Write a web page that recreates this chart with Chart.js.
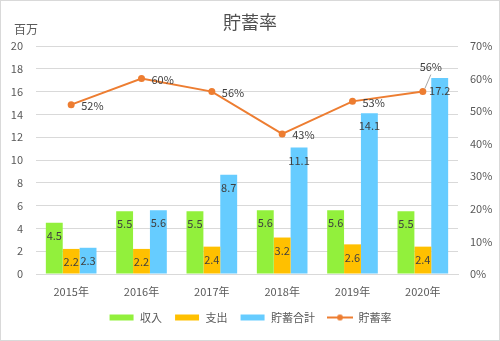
<!DOCTYPE html>
<html><head><meta charset="utf-8">
<script src="https://cdn.jsdelivr.net/npm/chart.js@4"></script>
<style>html,body{margin:0;padding:0;background:#fff}#wrap{width:500px;height:341px;position:relative}</style>
</head><body><div id="wrap"><canvas id="c" width="500" height="341"></canvas></div>
<script>
const categories = ['2015年','2016年','2017年','2018年','2019年','2020年'];
const income = [4.5, 5.5, 5.5, 5.6, 5.6, 5.5];
const expense = [2.2, 2.2, 2.4, 3.2, 2.6, 2.4];
const savingsTotal = [2.3, 5.6, 8.7, 11.1, 14.1, 17.2];
const savingsRate = [52, 60, 56, 43, 53, 56];
const rateLabelPlacement = ['right','right','right','right','right','above'];
const leftTicks = [0,2,4,6,8,10,12,14,16,18,20];

const FONT = '"Noto Sans CJK JP", "Noto Sans", sans-serif';
const TXT = '#595959';

function swatch(color, isLine){
  const c = document.createElement('canvas');
  c.width = 26; c.height = 8;
  const x = c.getContext('2d');
  if(isLine){
    x.strokeStyle = color; x.lineWidth = 2;
    x.beginPath(); x.moveTo(0,4); x.lineTo(26,4); x.stroke();
    x.fillStyle = color; x.beginPath(); x.arc(13,4,3,0,Math.PI*2); x.fill();
  } else {
    x.fillStyle = color; x.fillRect(1,1,24,6);
  }
  return c;
}

const deco = {
  id:'deco',
  beforeDraw(chart){
    const ctx = chart.ctx;
    ctx.save();
    ctx.fillStyle = '#fff'; ctx.fillRect(0,0,chart.width,chart.height);
    ctx.strokeStyle = '#D9D9D9'; ctx.lineWidth = 1;
    ctx.strokeRect(0.5,0.5,chart.width-1,chart.height-1);
    ctx.restore();
  },
  afterDraw(chart){
    const ctx = chart.ctx;
    ctx.save();
    ctx.fillStyle = '#505050';
    ctx.textAlign = 'center'; ctx.textBaseline = 'middle';
    ctx.font = '18px ' + FONT;
    ctx.fillText('貯蓄率', 250, 22);
    ctx.fillStyle = TXT;
    ctx.font = '12px ' + FONT;
    ctx.fillText('百万', 26, 29);
    ctx.restore();
  },
  afterDatasetsDraw(chart){
    const ctx = chart.ctx;
    ctx.save();
    ctx.font = '11px ' + FONT;
    ctx.fillStyle = '#404040';
    ctx.textBaseline = 'middle';
    [0,1,2].forEach(di=>{
      const meta = chart.getDatasetMeta(di);
      const data = chart.data.datasets[di].data;
      meta.data.forEach((bar,i)=>{
        ctx.textAlign = 'center';
        ctx.fillText(data[i].toFixed(1), bar.x, bar.y + 13);
      });
    });
    const lm = chart.getDatasetMeta(3);
    lm.data.forEach((pt,i)=>{
      const t = savingsRate[i] + '%';
      if(rateLabelPlacement[i]==='above'){
        ctx.textAlign = 'center';
        ctx.fillText(t, pt.x + 8, pt.y - 25);
        ctx.strokeStyle = '#A6A6A6'; ctx.lineWidth = 1;
        ctx.beginPath(); ctx.moveTo(pt.x + 8, pt.y - 17); ctx.lineTo(pt.x + 2, pt.y - 3); ctx.stroke();
      } else {
        ctx.textAlign = 'left';
        ctx.fillText(t, pt.x + 10, pt.y + 1);
      }
    });
    ctx.restore();
  }
};

new Chart(document.getElementById('c'), {
  data: {
    labels: categories,
    datasets: [
      {type:'bar', label:'収入', data: income, backgroundColor:'#92F03C', yAxisID:'y', categoryPercentage:0.72, barPercentage:1, legendSwatch: swatch('#92F03C')},
      {type:'bar', label:'支出', data: expense, backgroundColor:'#FFC000', yAxisID:'y', categoryPercentage:0.72, barPercentage:1, legendSwatch: swatch('#FFC000')},
      {type:'bar', label:'貯蓄合計', data: savingsTotal, backgroundColor:'#66CCFF', yAxisID:'y', categoryPercentage:0.72, barPercentage:1, legendSwatch: swatch('#66CCFF')},
      {type:'line', label:'貯蓄率', data: savingsRate, borderColor:'#ED7D31', backgroundColor:'#ED7D31', borderWidth:2, pointRadius:3.5, pointBackgroundColor:'#ED7D31', pointBorderWidth:0, yAxisID:'y1', tension:0, order:-1, legendSwatch: swatch('#ED7D31', true)}
    ]
  },
  options: {
    responsive:false, animation:false, devicePixelRatio:1,
    layout:{padding:{top:46, left:0, right:0, bottom:8}},
    plugins:{
      title:{display:false}, tooltip:{enabled:false},
      legend:{
        position:'bottom',
        labels:{
          usePointStyle:true, pointStyleWidth:26, boxHeight:8, padding:12,
          color:TXT, font:{family:FONT, size:11},
          sort:(a,b)=>a.datasetIndex-b.datasetIndex,
          generateLabels(chart){
            return chart.data.datasets.map((ds,i)=>({
              text: ds.label, datasetIndex:i, pointStyle: ds.legendSwatch,
              fillStyle: ds.backgroundColor, strokeStyle: ds.backgroundColor, lineWidth:0, hidden:false, fontColor:TXT
            }));
          }
        }
      }
    },
    scales:{
      x:{
        grid:{display:false, drawTicks:false},
        border:{display:true, color:'#D9D9D9'},
        ticks:{color:TXT, font:{family:FONT, size:11}, padding:11},
        afterFit(s){ s.height = 26; }
      },
      y:{
        position:'left', min:0, max:20,
        afterBuildTicks(s){ s.ticks = leftTicks.map(v=>({value:v})); },
        grid:{color:'#D9D9D9', drawTicks:false},
        border:{display:false},
        ticks:{color:TXT, font:{family:FONT, size:11}, padding:13},
        afterFit(s){ s.width = 36; }
      },
      y1:{
        position:'right', min:0, max:70,
        grid:{display:false, drawTicks:false},
        border:{display:false},
        ticks:{stepSize:10, color:TXT, font:{family:FONT, size:11}, padding:12, callback:v=>v+'%'},
        afterFit(s){ s.width = 42; }
      }
    }
  },
  plugins:[deco]
});
</script></body></html>
